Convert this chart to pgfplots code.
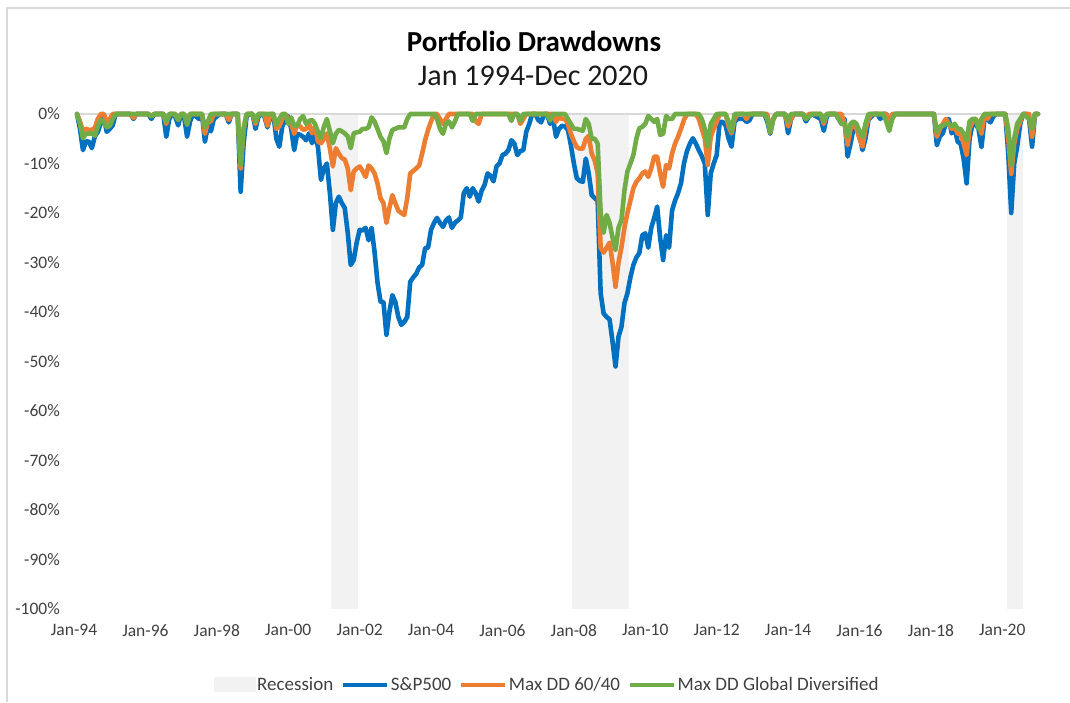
\documentclass[border=0pt]{standalone}
\usepackage{fontspec}
\setmainfont{Carlito}
\usepackage{pgfplots}
\pgfplotsset{compat=1.18}
\definecolor{spblue}{HTML}{0070C0}
\definecolor{ddorange}{HTML}{ED7D31}
\definecolor{ddgreen}{HTML}{70AD47}
\definecolor{recgray}{HTML}{F2F2F2}
\definecolor{axgray}{HTML}{D9D9D9}
\definecolor{txtgray}{HTML}{404040}
\pgfplotsset{
  linelegend/.style={legend image code/.code={\draw[##1, line cap=butt] (0pt,0pt) -- (44pt,0pt);}},
  reclegend/.style={legend image code/.code={\fill[recgray] (0pt,-7.5pt) rectangle (42pt,7.5pt);}},
}
\begin{document}
\begin{tikzpicture}
\path[use as bounding box] (0,0) rectangle (1070pt,702pt);
\draw[axgray, line width=1.2pt] (7pt,0pt) -- (7pt,694pt) -- (1070pt,694pt);
\begin{axis}[
  at={(77pt,93pt)}, anchor=south west,
  scale only axis, width=961pt, height=495pt,
  xmin=0, xmax=323, ymin=-100, ymax=0,
  axis line style={draw=none}, tick style={draw=none},
  clip=false,
  xtick={0,24,...,312},
  xticklabels={Jan-94,Jan-96,Jan-98,Jan-00,Jan-02,Jan-04,Jan-06,Jan-08,Jan-10,Jan-12,Jan-14,Jan-16,Jan-18,Jan-20},
  ytick={-100,-90,...,0},
  yticklabels={-100\%,-90\%,-80\%,-70\%,-60\%,-50\%,-40\%,-30\%,-20\%,-10\%,0\%},
  tick label style={font=\fontsize{17.5}{20}\selectfont, text=txtgray},
  yticklabel style={anchor=east, inner sep=0pt, xshift=-17pt},
  xticklabel style={anchor=north, inner sep=0pt, yshift=-15pt, xshift=-3pt},
  legend style={at={(0.489,-0.1535)}, anchor=center, draw=none, fill=none,
    font=\fontsize{19}{22}\selectfont, text=txtgray, legend columns=-1,
    nodes={inner sep=1.5pt},
    /tikz/every even column/.append style={column sep=6pt},
    /tikz/every odd column/.append style={column sep=0pt}},
  legend cell align=left,
  every axis plot/.append style={line join=round, line cap=round},
]
\addplot[fill=recgray, draw=none, reclegend]
  coordinates {(85.5,0)(85.5,-100)(94.5,-100)(94.5,0)};
\addlegendentry{Recession}
\addplot[fill=recgray, draw=none, forget plot]
  coordinates {(166.5,0)(166.5,-100)(185.5,-100)(185.5,0)};
\addplot[fill=recgray, draw=none, forget plot]
  coordinates {(312.5,0)(312.5,-100)(318,-100)(318,0)};
\addplot[axgray, line width=1.3pt, forget plot] coordinates {(0,0)(323,0)};
% S&P500
\addplot[spblue, line width=4.6pt, linelegend]
coordinates {(0,0)(1,-3)(2,-7.3)(3,-5.5)(4,-5.6)(5,-6.9)(6,-4.5)(7,-3.6)(8,-1.8)(9,-0.7)(10,-3.6)(11,-3)(12,-2.3)(13,0)(18,0)(19,-1)(20,0)(24,0)(25,-1)(26,0)(29,0)(30,-4.6)(31,-1)(32,0)(33,-0.5)(34,-2.3)(35,0)(36,-0.5)(37,-4.6)(38,-1.5)(39,0)(41,-1)(42,0)(43,-5.6)(44,-2.3)(45,-3.5)(46,-1)(47,-0.5)(48,0)(50,0)(51,-1.7)(52,0)(54,0)(55,-15.7)(56,-6)(57,-0.5)(58,0)(59,0)(60,-3)(61,-0.5)(62,0)(63,-0.5)(64,-2.7)(65,-0.5)(66,0)(67,-5)(68,-6.6)(69,-2.5)(70,-1.2)(71,-0.5)(72,-3)(73,-7.3)(74,-4)(75,-4.2)(76,-4.6)(77,-5.3)(78,-3.9)(79,-5.9)(80,-4)(81,-6.7)(82,-13.3)(83,-11)(84,-10)(85,-16)(86,-23.4)(87,-18)(88,-16.7)(89,-18)(90,-19)(91,-24)(92,-30.5)(93,-29.5)(94,-26)(95,-23.4)(96,-23.5)(97,-23)(98,-25.5)(99,-23)(100,-27.8)(101,-34)(102,-37.9)(103,-38)(104,-44.6)(105,-40)(106,-36.6)(107,-38)(108,-41)(109,-42.6)(110,-42)(111,-41)(112,-33.9)(113,-33)(114,-32.3)(115,-31)(116,-30.5)(117,-27.1)(118,-27)(119,-23.4)(120,-22)(121,-21)(122,-22)(123,-22.8)(124,-21.5)(125,-20.9)(126,-23)(127,-22)(128,-21.5)(129,-20.9)(130,-16)(131,-15)(132,-16.7)(133,-15)(134,-16)(135,-17.7)(136,-15.5)(137,-14.3)(138,-12)(139,-12.5)(140,-13.6)(141,-10.6)(142,-10)(143,-8.3)(144,-8)(145,-7.3)(146,-5.3)(147,-6)(148,-8.3)(149,-7.5)(150,-7.3)(151,-3.6)(152,-2)(153,0)(154,0)(155,-1.2)(156,-1.7)(157,0)(158,0)(159,-2)(160,-1)(161,-4.6)(162,-3)(163,-2.4)(164,-2.5)(165,-3.2)(166,-6.3)(167,-10)(168,-13)(169,-13.5)(170,-13.7)(171,-9)(172,-12)(173,-16.4)(174,-17)(175,-17.5)(176,-36.2)(177,-40.3)(178,-41)(179,-41.5)(180,-46)(181,-51)(182,-45)(183,-43)(184,-38.2)(185,-36.2)(186,-33)(187,-30.5)(188,-29)(189,-28.1)(190,-24.5)(191,-24.1)(192,-27)(193,-23)(194,-21)(195,-18.7)(196,-25)(197,-29.5)(198,-24.5)(199,-27)(200,-19.5)(201,-17.5)(202,-16)(203,-14)(204,-10)(205,-7.5)(206,-6)(207,-4.9)(208,-6)(209,-7.3)(210,-8.5)(211,-10)(212,-20.4)(213,-12)(214,-10)(215,-8.3)(216,-1.6)(217,-1.6)(218,-2.3)(219,-5)(220,-6.6)(221,-1.6)(222,-1)(223,-1)(224,-1)(225,-1.6)(226,-1.3)(227,0)(231,0)(232,-1.5)(233,-4)(234,-1)(235,0)(238,0)(239,-3.9)(240,-1)(241,0)(244,0)(245,-1.5)(246,-0.5)(247,0)(250,-1)(251,-3.4)(252,-0.5)(253,0)(255,0)(256,-1)(257,-2)(258,-1)(259,-8.6)(260,-6)(261,-2.8)(262,-2.5)(263,-4)(264,-7.3)(265,-5)(266,-1.2)(267,-0.5)(268,0)(269,0)(270,-1)(271,0)(272,0)(273,-1.5)(274,-0.5)(275,0)(288,0)(289,-6.3)(290,-4.5)(291,-3.9)(292,-2)(293,-1)(294,-3.9)(295,-3)(296,-5.6)(297,-6)(298,-9)(299,-14)(300,-5)(301,-2)(302,-2)(303,-3)(304,-6.7)(305,-1)(306,-1)(307,-1.7)(308,-0.5)(309,0)(312,0)(313,-8)(314,-20)(315,-10)(316,-6.6)(317,-2)(318,0)(319,0)(320,-1)(321,-6.6)(322,0)(323,0)};
\addlegendentry{S\&P500}
% Max DD 60/40
\addplot[ddorange, line width=4.6pt, linelegend]
coordinates {(0,0)(1,-1.5)(2,-3.5)(3,-3)(4,-3.2)(5,-3.2)(6,-2.8)(7,-1)(8,0)(9,0)(10,-1.5)(11,-1)(12,0)(18,0)(19,-0.8)(20,0)(24,0)(25,-0.5)(26,0)(29,0)(30,-2)(31,0)(33,0)(34,-1.2)(35,0)(36,0)(37,-1.8)(38,0)(42,0)(43,-4)(44,-1.5)(45,-1.5)(46,0)(50,0)(51,-1.2)(52,0)(54,0)(55,-11)(56,-3)(57,0)(59,0)(60,-2)(61,0)(63,0)(64,-2.4)(65,0)(66,0)(67,-3)(68,-2.5)(69,-1)(70,0)(71,-1)(72,-2)(73,-4)(74,-2)(75,-2.5)(76,-3.2)(77,-3)(78,-2)(79,-3.9)(80,-2.5)(81,-5.6)(82,-5.9)(83,-5)(84,-3.9)(85,-7)(86,-10.6)(87,-6.9)(88,-8)(89,-8.9)(90,-9.2)(91,-11)(92,-15.4)(93,-11.6)(94,-11)(95,-10.6)(96,-11.5)(97,-12.7)(98,-10.4)(99,-11)(100,-12)(101,-14)(102,-17)(103,-18)(104,-22)(105,-19)(106,-16.4)(107,-18)(108,-19.5)(109,-20)(110,-20.4)(111,-17)(112,-12)(113,-11.5)(114,-11)(115,-10.4)(116,-8)(117,-5.3)(118,-3.2)(119,-1.5)(120,0)(121,0)(122,-1)(123,-2)(124,-1)(125,0)(133,0)(134,-1.5)(135,-2)(136,0)(148,0)(149,-2)(150,-1)(151,0)(160,0)(161,-1.6)(162,-0.5)(163,-1)(164,-1)(165,-2)(166,-4)(167,-5.5)(168,-6.7)(169,-7)(170,-7)(171,-5)(172,-4.4)(173,-8)(174,-9.4)(175,-12)(176,-27)(177,-28)(178,-27)(179,-26)(180,-30)(181,-34.9)(182,-30)(183,-26.9)(184,-22.9)(185,-20)(186,-17.5)(187,-15)(188,-13.7)(189,-13)(190,-12)(191,-11.6)(192,-12.7)(193,-11)(194,-8.6)(195,-8.6)(196,-12)(197,-14.7)(198,-10.3)(199,-11)(200,-8)(201,-6)(202,-4.6)(203,-3)(204,-1.2)(205,0)(208,0)(209,-1)(210,-3)(211,-5)(212,-10.3)(213,-4.6)(214,-3)(215,-1.6)(216,0)(218,0)(219,-2.5)(220,-3.9)(221,-1)(222,0)(224,0)(225,-1)(226,0)(232,0)(233,-3.8)(234,-1)(235,0)(238,0)(239,-2.5)(240,-1)(241,0)(244,0)(245,-1)(246,0)(250,0)(251,-2)(252,0)(257,0)(258,-2)(259,-6.3)(260,-3)(261,-2)(262,-3)(263,-5)(264,-6.6)(265,-3)(266,-1)(267,0)(272,0)(273,-2)(274,0)(288,0)(289,-4.6)(290,-3)(291,-2)(292,-1)(293,-2)(294,-3)(295,-2.5)(296,-4)(297,-4)(298,-6)(299,-8.3)(300,-3)(301,-1.5)(302,-1)(303,-2)(304,-4)(305,0)(306,-1)(307,0)(312,0)(313,-5)(314,-12.1)(315,-6)(316,-3)(317,-1.5)(318,0)(320,0)(321,-4.6)(322,0)(323,0)};
\addlegendentry{Max DD 60/40}
% Max DD Global Diversified
\addplot[ddgreen, line width=4.6pt, linelegend]
coordinates {(0,0)(1,-2)(2,-4.9)(3,-4)(4,-4)(5,-3.9)(6,-4.4)(7,-2.5)(8,-1.2)(9,-1.5)(10,-2.7)(11,-2.4)(12,-1)(13,0)(24,0)(25,-0.5)(26,0)(29,0)(30,-1.5)(31,0)(33,0)(34,-1.2)(35,0)(36,0)(37,-2.2)(38,0)(42,0)(43,-2.7)(44,-1.5)(45,0)(54,0)(55,-10.3)(56,-3)(57,0)(59,0)(60,-1.5)(61,0)(66,0)(67,-2.2)(68,-1)(69,0)(70,0)(71,-2)(72,-0.7)(73,-2.4)(74,-2.4)(75,-1)(76,-0.4)(77,-2)(78,-1.4)(79,-1.2)(80,-2)(81,-3.6)(82,-4.9)(83,-2.5)(84,-1)(85,-3.5)(86,-5.9)(87,-4)(88,-3.2)(89,-3.5)(90,-3.9)(91,-4.5)(92,-6.9)(93,-3.9)(94,-3.7)(95,-3.6)(96,-3)(97,-3)(98,-2.7)(99,-0.7)(100,-1.5)(101,-3)(102,-4.6)(103,-5.5)(104,-7.9)(105,-5)(106,-3.2)(107,-3)(108,-2.7)(109,-2.7)(110,-2.7)(111,-1)(112,0)(120,0)(121,-1)(122,-3)(123,-4)(124,-2)(125,-1.5)(126,-2.7)(127,-1.5)(128,0)(132,0)(133,-1.4)(134,0)(145,0)(146,-1.4)(147,0)(148,0)(149,-1.4)(150,0)(158,0)(159,-1.3)(160,0)(164,0)(165,-1)(166,-2)(167,-3)(168,-3)(169,-3.2)(170,-3.4)(171,-1)(172,-2)(173,-5)(174,-5)(175,-6)(176,-20)(177,-24)(178,-20.4)(179,-22)(180,-25)(181,-27.5)(182,-23)(183,-21.4)(184,-15.4)(185,-11.6)(186,-10)(187,-8.3)(188,-5)(189,-2.9)(190,-2.6)(191,-2)(192,-0.4)(193,-1)(194,-1.6)(195,-1)(196,-4.2)(197,-4)(198,-0.4)(199,-1)(200,-1)(201,0)(209,0)(210,-1)(211,-3)(212,-6.6)(213,-2)(214,-1)(215,0)(218,0)(219,-1.5)(220,-3.6)(221,0)(231,0)(232,-1)(233,-3.7)(234,-1)(235,0)(238,0)(239,-1.5)(240,0)(244,0)(245,-1)(246,-0.5)(247,0)(250,0)(251,-1.5)(252,0)(255,0)(256,-1)(257,-2)(258,-2)(259,-4.6)(260,-2)(261,-1.5)(262,-2)(263,-3.5)(264,-4.6)(265,-2)(266,0)(271,0)(272,-1.5)(273,-3.4)(274,-1)(275,0)(288,0)(289,-3.7)(290,-2.5)(291,-2.4)(292,-2)(293,-2)(294,-2.5)(295,-2)(296,-3)(297,-3)(298,-4)(299,-5.3)(300,-1.5)(301,-1)(302,-1)(303,-3)(304,-1)(305,0)(312,0)(313,-3)(314,-10.4)(315,-5)(316,-2)(317,-1)(318,0)(320,-1)(321,-3)(322,0)(323,0)};
\addlegendentry{Max DD Global Diversified}
\end{axis}
\node[font=\fontsize{29}{33}\selectfont\bfseries, text=black] at (534pt,661pt) {Portfolio Drawdowns};
\node[font=\fontsize{30}{34}\selectfont, text=black!90] at (533pt,626pt) {Jan 1994-Dec 2020};
\end{tikzpicture}
\end{document}
